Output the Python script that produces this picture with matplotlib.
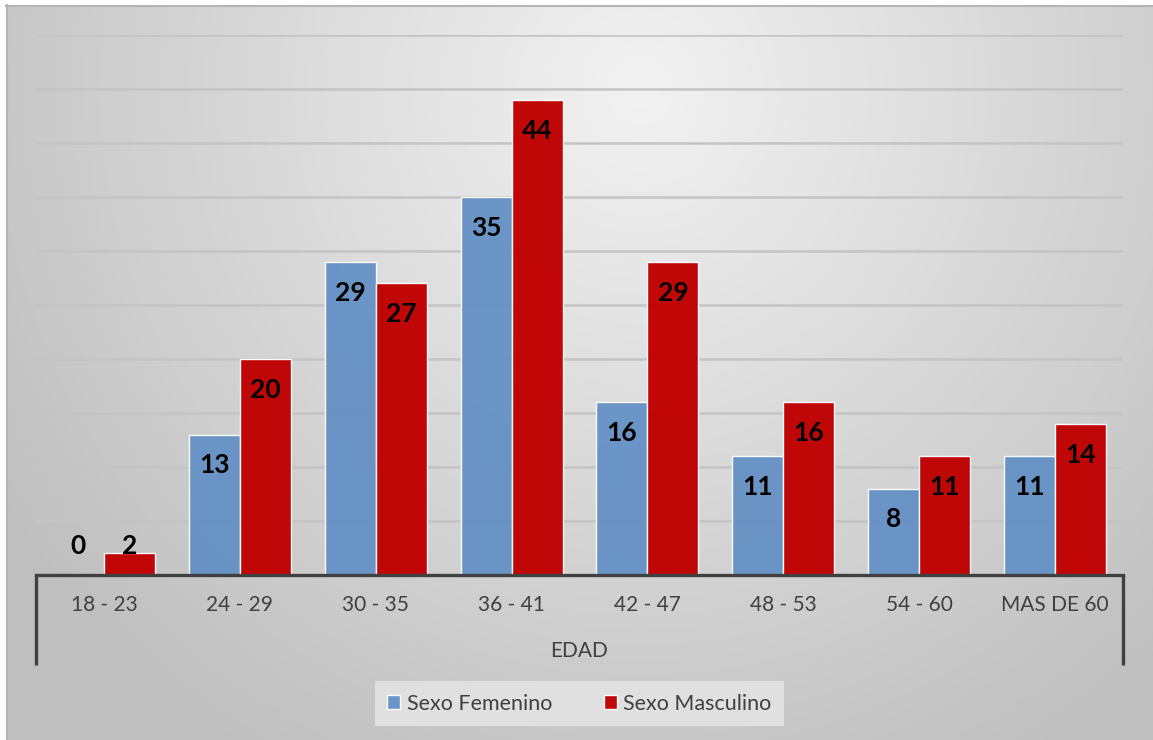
import numpy as np
import matplotlib.pyplot as plt
from matplotlib.lines import Line2D

# age ranges and counts per sex
grupos = ['18 - 23', '24 - 29', '30 - 35', '36 - 41', '42 - 47', '48 - 53', '54 - 60', 'MAS DE 60']
femenino = [0, 13, 29, 35, 16, 11, 8, 11]
masculino = [2, 20, 27, 44, 29, 16, 11, 14]

azul = '#6591c5'
rojo = '#c00000'
gris_txt = '#404040'

plt.rcParams['font.family'] = ['Lato', 'DejaVu Sans']

W, H = 1153, 740
fig = plt.figure(figsize=(W / 100, H / 100), dpi=100)

# radial gray background of the chart area
bg = fig.add_axes([0, 0, 1, 1], zorder=-5)
yy, xx = np.mgrid[0:H, 0:W]
t = np.sqrt(((xx - 640) / 760.0) ** 2 + ((yy - 90) / 780.0) ** 2)
t = np.clip(t, 0, 1)
shade = 0.95 - (0.95 - 0.75) * t
img = np.dstack([shade, shade, shade])
img[:5, :, :] = 1.0
img[:, :6, :] = 1.0
bg.imshow(img, extent=[0, W, H, 0], aspect='auto', interpolation='bilinear')
bg.plot([6, W], [5.5, 5.5], color='#b5b5b5', lw=1.5)
bg.plot([6.5, 6.5], [5, H], color='#b5b5b5', lw=1.5)
bg.set_xlim(0, W)
bg.set_ylim(H, 0)
bg.axis('off')

x0, x1, ybase, ytop = 36, 1123, 575, 35
ax = fig.add_axes([x0 / W, 1 - ybase / H, (x1 - x0) / W, (ybase - ytop) / H])
ax.set_facecolor('none')

x = np.arange(len(grupos))
w = 0.375
b1 = ax.bar(x - w / 2, femenino, w, color=azul, alpha=0.95, edgecolor=(1, 1, 1, 0.45), linewidth=1, zorder=3, label='Sexo Femenino')
b2 = ax.bar(x + w / 2, masculino, w, color=rojo, alpha=0.97, edgecolor=(1, 1, 1, 0.45), linewidth=1, zorder=3, label='Sexo Masculino')

ax.set_xlim(-0.5, len(grupos) - 0.5)
ax.set_ylim(0, 50)
ax.set_yticks(np.arange(5, 51, 5))
ax.yaxis.grid(True, color='#c4c4c4', lw=1.8, zorder=0)
ax.set_axisbelow(True)
ax.tick_params(left=False, labelleft=False, bottom=False, labelbottom=False)
for s in ['top', 'right', 'left']:
    ax.spines[s].set_visible(False)
ax.spines['bottom'].set_color(gris_txt)
ax.spines['bottom'].set_linewidth(2.4)
ax.spines['bottom'].set_zorder(5)

# value labels inside the top of each bar
for xs, vals in [(x - w / 2, femenino), (x + w / 2, masculino)]:
    for xi, v in zip(xs, vals):
        ax.text(xi, max(v - 2.85, 2.7), str(v), ha='center', va='center',
                fontsize=19, fontweight='bold', color='black', zorder=6)

# category labels and the outer frame of the category axis
trans = ax.get_xaxis_transform()
axh = ybase - ytop
for xi, g in zip(x, grupos):
    ax.text(xi, -30 / axh, g, transform=trans, ha='center', va='center',
            fontsize=15, color=gris_txt)
ax.text(0.5, -76 / axh, 'EDAD', transform=ax.transAxes, ha='center', va='center',
        fontsize=15, color=gris_txt)
for xe in [0, 1]:
    ax.add_line(Line2D([xe, xe], [0, -90 / axh], transform=ax.transAxes,
                       color=gris_txt, lw=2.4, clip_on=False, solid_capstyle='butt'))

leg = fig.legend(handles=[b1, b2], loc='center', bbox_to_anchor=(579.5 / W, 1 - 703.5 / H),
                 ncol=2, fontsize=15.5, frameon=True, fancybox=False, handlelength=0.6,
                 handleheight=0.6, handletextpad=0.3, columnspacing=2.4,
                 borderpad=0.6, borderaxespad=0)
leg.get_frame().set_facecolor('#e0e0e0')
leg.get_frame().set_edgecolor('none')
leg.get_frame().set_alpha(1)
for txt in leg.get_texts():
    txt.set_color(gris_txt)

fig.savefig('out.png', dpi=100)
